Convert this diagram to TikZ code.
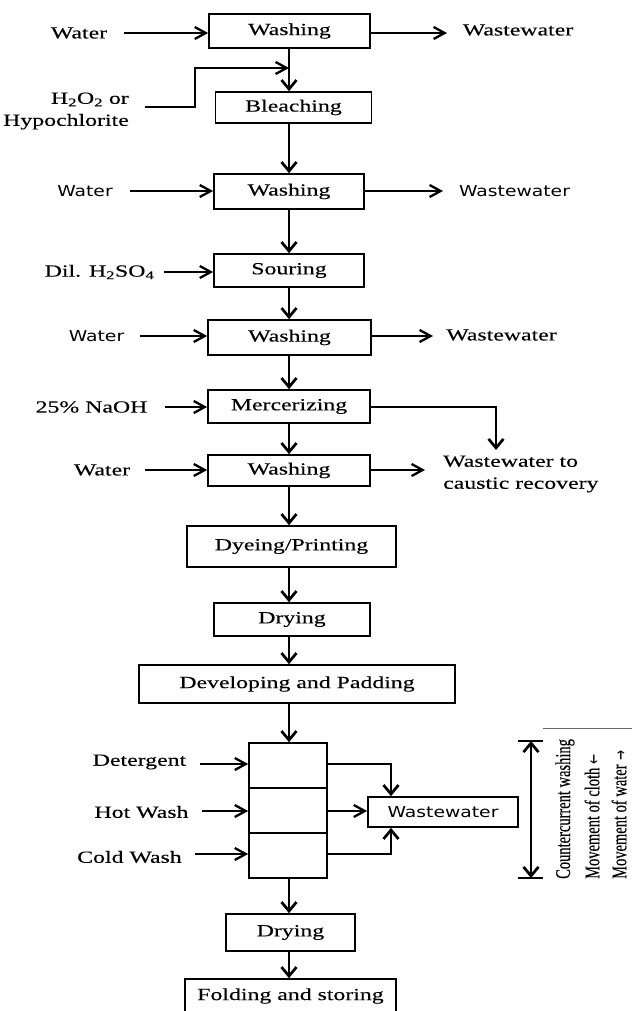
\documentclass[tikz,border=0pt]{standalone}
\usepackage{fontspec}
\usepackage{graphicx}
\setmainfont{Liberation Serif}[FakeStretch=1.4,FakeBold=0.25]
\newfontfamily\sansf{DejaVu Sans}[FakeStretch=1.25]
\newfontfamily\rotf{Liberation Serif}[FakeBold=0.2]
\newfontfamily\arrf{DejaVu Sans}
\usetikzlibrary{arrows.meta}
\tikzset{
  box/.style={draw, line width=1.7pt, inner sep=0pt, font=\fontsize{17}{20}\selectfont},
  lbl/.style={inner sep=0pt, font=\fontsize{17}{22}\selectfont},
  slbl/.style={inner sep=0pt, font=\sansf\fontsize{15}{18}\selectfont},
  conn/.style={line width=2.3pt},
  ha/.style={conn, -{Straight Barb[length=11pt,width=12pt]}},
  va/.style={line width=2.7pt, -{Straight Barb[length=9pt,width=15pt]}},
  rlbl/.style={inner sep=0pt, rotate=90, anchor=west},
}
\newcommand{\rtext}[1]{\scalebox{1}[1.45]{\rotf\fontsize{14.5}{16}\selectfont #1}}
\begin{document}
\begin{tikzpicture}[x=1pt, y=-1pt]
\useasboundingbox (0,0) rectangle (632,1011);
\clip (0,0) rectangle (632,1011);
\coordinate (axis) at (289,0);
% boxes
\node[box, minimum width=161, minimum height=34] (w1) at (289.5,31) {Washing};
\node[box, minimum width=156, minimum height=31] (bl) at (293.5,107.5) {Bleaching};
\node[box, minimum width=150, minimum height=35] (w2) at (289,191.5) {Washing};
\node[box, minimum width=150, minimum height=33] (so) at (289,270.5) {Souring};
\node[box, minimum width=163, minimum height=35] (w3) at (289.5,337.5) {Washing};
\node[box, minimum width=162, minimum height=33] (me) at (289,406.5) {Mercerizing};
\node[box, minimum width=162, minimum height=31] (w4) at (289,470.5) {Washing};
\node[box, minimum width=209, minimum height=41] (dp) at (291.5,546.5) {Dyeing/Printing};
\node[box, minimum width=156, minimum height=33] (dr1) at (292,619.5) {Drying};
\node[box, minimum width=316, minimum height=38] (dev) at (297,684) {Developing and Padding};
\node[box, minimum width=78, minimum height=45] (s1) at (288,765.5) {};
\node[box, minimum width=78, minimum height=45] (s2) at (288,810.5) {};
\node[box, minimum width=78, minimum height=45] (s3) at (288,855.5) {};
\node[box, minimum width=150, minimum height=30, font=\sansf\fontsize{15}{18}\selectfont] (wwb) at (443,812) {Wastewater};
\node[box, minimum width=129, minimum height=37] (dr2) at (290.5,932.5) {Drying};
\node[box, minimum width=211, minimum height=34] (fold) at (290.5,996) {Folding and storing};
% labels
\node[lbl] (lw1) at (79,33) {Water};
\node[lbl, align=right, anchor=east] (lh2o2) at (129,111) {H\textsubscript{2}O\textsubscript{2} or\\Hypochlorite};
\node[slbl] (lw2) at (85,191) {Water};
\node[lbl] (ldil) at (99.5,272) {Dil. H\textsubscript{2}SO\textsubscript{4}};
\node[slbl] (lw3) at (96.5,336) {Water};
\node[lbl] (lnaoh) at (91.5,407) {25\% NaOH};
\node[lbl] (lw4) at (102,470) {Water};
\node[lbl] (ldet) at (139.5,762) {Detergent};
\node[lbl] (lhot) at (141.5,812) {Hot Wash};
\node[lbl] (lcold) at (129.5,857) {Cold Wash};
\node[lbl] (rww1) at (518,30) {Wastewater};
\node[slbl] (rww2) at (514.5,191) {Wastewater};
\node[lbl] (rww3) at (501.5,335) {Wastewater};
\node[lbl, align=left, anchor=west] (rcaus) at (443,474) {Wastewater to\\caustic recovery};
\node[rlbl] (rot1) at (565,879) {\rtext{Countercurrent washing}};
\node[rlbl] (rot2) at (592,879) {\rtext{Movement of cloth {\arrf\fontsize{12}{14}\selectfont ←}}};
\node[rlbl] (rot3) at (619,879) {\rtext{Movement of water {\arrf\fontsize{12}{14}\selectfont →}}};
% input coordinates
\coordinate (iw1) at (124,33);
\coordinate (ih) at (145,107);
\coordinate (ihc) at (195,68);
\coordinate (iw2) at (130,191);
\coordinate (idil) at (164,272);
\coordinate (iw3) at (140,336);
\coordinate (inaoh) at (165,407);
\coordinate (iw4) at (145,470);
\coordinate (idet) at (200,764);
\coordinate (ihot) at (202,811);
\coordinate (icold) at (195,854);
\coordinate (ow1) at (447,33);
\coordinate (ow2) at (443,191);
\coordinate (ow3) at (433,336);
\coordinate (ocaus) at (496,450);
\coordinate (ow4) at (425,470);
\coordinate (wwx) at (391,0);
% vertical flow
\draw[va] (axis |- w1.south) -- (axis |- bl.north);
\draw[va] (axis |- bl.south) -- (axis |- w2.north);
\draw[va] (axis |- w2.south) -- (axis |- so.north);
\draw[va] (axis |- so.south) -- (axis |- w3.north);
\draw[va] (axis |- w3.south) -- (axis |- me.north);
\draw[va] (axis |- me.south) -- (axis |- w4.north);
\draw[va] (axis |- w4.south) -- (axis |- dp.north);
\draw[va] (axis |- dp.south) -- (axis |- dr1.north);
\draw[va] (axis |- dr1.south) -- (axis |- dev.north);
\draw[va] (axis |- dev.south) -- (axis |- s1.north);
\draw[va] (axis |- s3.south) -- (axis |- dr2.north);
\draw[va] (axis |- dr2.south) -- (axis |- fold.north);
% inputs
\draw[ha] (iw1) -- (iw1 -| w1.west);
\draw[ha] (ih) -| (ihc) -- (ihc -| axis);
\draw[ha] (iw2) -- (iw2 -| w2.west);
\draw[ha] (idil) -- (idil -| so.west);
\draw[ha] (iw3) -- (iw3 -| w3.west);
\draw[ha] (inaoh) -- (inaoh -| me.west);
\draw[ha] (iw4) -- (iw4 -| w4.west);
\draw[ha] (idet) -- (idet -| s1.west);
\draw[ha] (ihot) -- (ihot -| s2.west);
\draw[ha] (icold) -- (icold -| s3.west);
% outputs
\draw[ha] (ow1 -| w1.east) -- (ow1);
\draw[ha] (ow2 -| w2.east) -- (ow2);
\draw[ha] (ow3 -| w3.east) -- (ow3);
\draw[va] (inaoh -| me.east) -| (ocaus);
\draw[ha] (ow4 -| w4.east) -- (ow4);
% wash stack to wastewater
\draw[va] (idet -| s1.east) -| (wwx |- wwb.north);
\draw[ha] (ihot -| s2.east) -- (ihot -| wwb.west);
\draw[va] (icold -| s3.east) -| (wwx |- wwb.south);
% countercurrent double arrow
\coordinate (dtop) at (531,741);
\coordinate (dbot) at (531,878);
\draw[line width=2.7pt, {Straight Barb[length=9pt,width=15pt]}-{Straight Barb[length=9pt,width=15pt]}] (dtop) -- (dbot);
\draw[line width=1.2pt] ([xshift=-13pt]dtop) -- ([xshift=12pt]dtop);
\draw[line width=1.2pt] ([xshift=-13pt]dbot) -- ([xshift=12pt]dbot);
\coordinate (tl) at (543,728);
\draw[line width=0.9pt, black!60] (tl) -- (tl -| 632,0);
\end{tikzpicture}
\end{document}
